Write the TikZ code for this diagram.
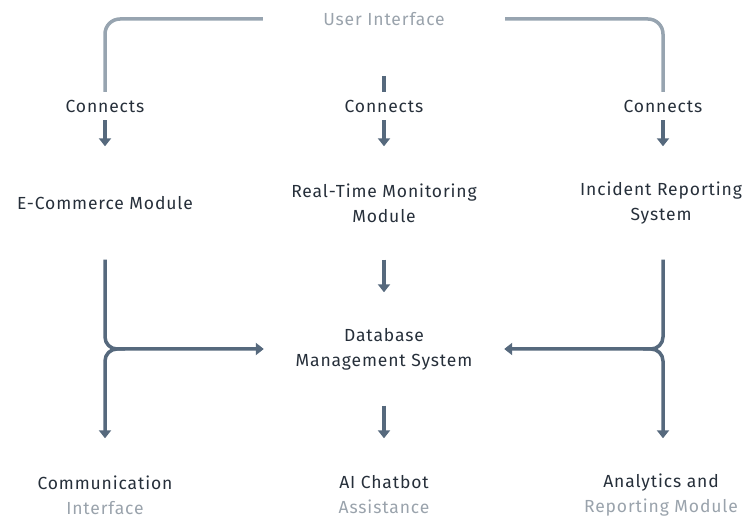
\documentclass[tikz,border=0pt]{standalone}
\usepackage{fontspec}
\setmainfont{Fira Sans}[LetterSpace=5]
\usetikzlibrary{arrows.meta}
\definecolor{flowline}{HTML}{56697D}
\definecolor{toplight}{HTML}{97A4B0}
\definecolor{labeltext}{HTML}{262F3A}
\definecolor{fadetext}{HTML}{9AA3AC}
\begin{document}
\begin{tikzpicture}[x=1pt,y=-1pt,
  every node/.style={font=\fontsize{17.5}{25}\selectfont, text=labeltext, align=center},
  link/.style={draw=flowline, line width=3.5pt, -{Triangle[width=12pt,length=8pt]}},
  box/.style={minimum width=240pt, minimum height=113pt, inner sep=0pt}]
\useasboundingbox (0,0) rectangle (745,518);
\node[text=fadetext, minimum width=242pt, inner sep=0pt] (ui) at (384,19) {User Interface};
\coordinate (uistub) at (384,76);
\node[inner sep=0pt, minimum height=28pt] (c1) at (105,106) {Connects};
\node[inner sep=0pt, minimum height=28pt] (c2) at (384,106) {Connects};
\node[inner sep=0pt, minimum height=28pt] (c3) at (663,106) {Connects};
\node[box] (ecom) at (105,203) {E-Commerce Module};
\node[box] (rtm) at (384,203) {Real-Time Monitoring\\Module};
\node[box] (irs) at (661,203) {Incident Reporting\\System};
\node[box] (dbms) at (384,349) {Database\\Management System};
\node[box] (comm) at (105,495) {Communication\\\textcolor{fadetext}{Interface}};
\node[box] (chat) at (384,495) {AI Chatbot\\\textcolor{fadetext}{Assistance}};
\node[box] (anal) at (661,495) {Analytics and\\\textcolor{fadetext}{Reporting Module}};
\draw[link, -, draw=toplight, rounded corners=15pt] (ui.west) -| (c1.north);
\draw[link, -, draw=toplight, rounded corners=15pt] (ui.east) -| (c3.north);
\draw[link, -] (uistub) -- (c2.north);
\draw[link] (c1.south) -- (ecom.north);
\draw[link] (c2.south) -- (rtm.north);
\draw[link] (c3.south) -- (irs.north -| c3.south);
\draw[link] (rtm.south) -- (dbms.north);
\draw[link] (dbms.south) -- (chat.north);
\draw[link, rounded corners=12pt] (ecom.south) |- (dbms.west);
\draw[link, rounded corners=12pt] ([xshift=20pt]ecom.south |- dbms.west) -- (ecom.south |- dbms.west) -- (comm.north);
\draw[link, rounded corners=12pt] (irs.south -| c3.south) |- (dbms.east);
\draw[link, rounded corners=12pt] ([xshift=-20pt]c3.south |- dbms.east) -- (c3.south |- dbms.east) -- (anal.north -| c3.south);
\end{tikzpicture}
\end{document}
